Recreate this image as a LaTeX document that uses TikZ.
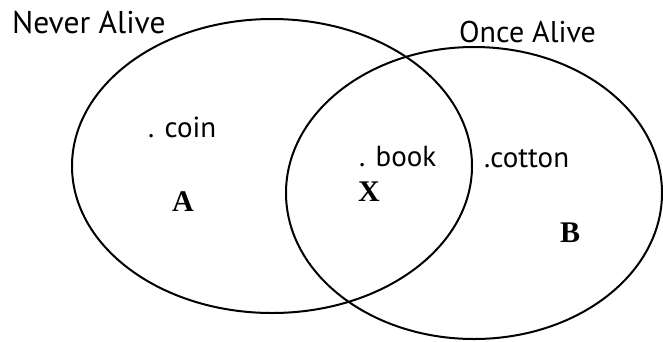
\documentclass[tikz,border=0pt]{standalone}
\usepackage{fontspec}
\setmainfont{PT Sans}
\newfontfamily\letterfont{Liberation Serif}
\begin{document}
\begin{tikzpicture}[x=1pt,y=-1pt,
  setline/.style={line width=2pt},
  lbl/.style={inner sep=0pt,anchor=base west,font=\fontsize{30}{32}\selectfont},
  itm/.style={inner sep=0pt,anchor=base west,font=\fontsize{29}{32}\selectfont},
  rgn/.style={inner sep=0pt,font=\letterfont\bfseries\fontsize{30}{32}\selectfont}]
\useasboundingbox (0,0) rectangle (663,341);
\coordinate (cA) at (272,166);
\coordinate (cB) at (474,193);
\draw[setline] (cA) ellipse [x radius=200, y radius=147];
\draw[setline] (cB) ellipse [x radius=188, y radius=146];
\node[lbl,font=\fontsize{31.5}{34}\selectfont] (never) at (12,33) {Never Alive};
\node[lbl] (once) at (459,42) {Once Alive};
\node[itm] (coin) at (148,137) {. coin};
\node[itm] (book) at (359,166) {. book};
\node[itm] (cotton) at (484,167) {.cotton};
\node[rgn] (A) at (183,202) {A};
\node[rgn] (X) at (369,192) {X};
\node[rgn] (B) at (570,233) {B};
\end{tikzpicture}
\end{document}
